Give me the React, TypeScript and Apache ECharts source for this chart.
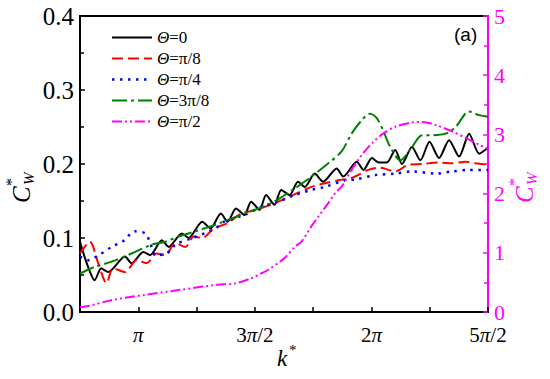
import React, { useEffect, useRef } from "react";
import * as echarts from "echarts";

// k* in units of π
const kTheta0 = [0.75, 0.78, 0.813, 0.841, 0.871, 0.943, 0.971, 1.022, 1.051, 1.101, 1.13, 1.187, 1.216, 1.274, 1.31, 1.354, 1.383, 1.419, 1.455, 1.484, 1.52, 1.548, 1.584, 1.613, 1.649, 1.685, 1.714, 1.757, 1.793, 1.851, 1.879, 1.937, 1.966, 2.002, 2.031, 2.066, 2.102, 2.131, 2.174, 2.21, 2.249, 2.29, 2.333, 2.376, 2.419, 2.462, 2.5];
const cwTheta0 = [0.095, 0.065, 0.043, 0.059, 0.054, 0.075, 0.066, 0.081, 0.077, 0.097, 0.088, 0.106, 0.1, 0.122, 0.113, 0.133, 0.122, 0.14, 0.131, 0.149, 0.138, 0.158, 0.145, 0.165, 0.158, 0.176, 0.169, 0.187, 0.176, 0.194, 0.183, 0.203, 0.192, 0.208, 0.202, 0.202, 0.219, 0.2, 0.223, 0.205, 0.23, 0.208, 0.232, 0.21, 0.241, 0.214, 0.222];

const kTheta1 = [0.75, 0.792, 0.828, 0.864, 0.892, 0.943, 0.993, 1.036, 1.079, 1.116, 1.159, 1.202, 1.238, 1.274, 1.324, 1.383, 1.441, 1.505, 1.57, 1.635, 1.743, 1.8, 1.858, 1.915, 1.987, 2.037, 2.102, 2.16, 2.217, 2.29, 2.347, 2.404, 2.447, 2.5];
const cwTheta1 = [0.079, 0.095, 0.066, 0.039, 0.059, 0.054, 0.07, 0.066, 0.079, 0.077, 0.093, 0.088, 0.102, 0.1, 0.113, 0.12, 0.133, 0.138, 0.145, 0.154, 0.169, 0.174, 0.178, 0.181, 0.192, 0.195, 0.19, 0.199, 0.2, 0.202, 0.201, 0.203, 0.201, 0.199];

const kTheta2 = [0.75, 0.785, 0.836, 0.886, 0.936, 0.985, 1.031, 1.052, 1.074, 1.121, 1.164, 1.225, 1.331, 1.368, 1.455, 1.527, 1.599, 1.671, 1.743, 1.8, 1.886, 1.93, 2.016, 2.102, 2.174, 2.275, 2.347, 2.419, 2.5];
const cwTheta2 = [0.075, 0.07, 0.078, 0.088, 0.096, 0.109, 0.106, 0.092, 0.077, 0.079, 0.092, 0.099, 0.113, 0.122, 0.131, 0.142, 0.149, 0.158, 0.165, 0.169, 0.178, 0.179, 0.185, 0.187, 0.19, 0.187, 0.19, 0.192, 0.192];

const kTheta3 = [0.75, 0.813, 0.885, 0.971, 1.058, 1.116, 1.173, 1.245, 1.331, 1.455, 1.57, 1.671, 1.743, 1.815, 1.872, 1.915, 1.958, 1.994, 2.023, 2.052, 2.081, 2.124, 2.174, 2.217, 2.261, 2.318, 2.361, 2.419, 2.462, 2.5];
const cwTheta3 = [0.052, 0.061, 0.068, 0.079, 0.091, 0.095, 0.102, 0.109, 0.118, 0.133, 0.147, 0.167, 0.183, 0.201, 0.217, 0.241, 0.259, 0.268, 0.262, 0.244, 0.223, 0.205, 0.223, 0.239, 0.239, 0.241, 0.25, 0.271, 0.266, 0.264];

const kTheta4 = [0.75, 0.785, 0.885, 1.029, 1.173, 1.338, 1.412, 1.484, 1.527, 1.556, 1.627, 1.671, 1.7, 1.743, 1.772, 1.815, 1.843, 1.872, 1.915, 1.958, 2.002, 2.045, 2.102, 2.174, 2.217, 2.275, 2.347, 2.419, 2.5];
const cwTheta4 = [0.08, 0.1, 0.2, 0.29, 0.37, 0.46, 0.48, 0.57, 0.65, 0.71, 0.91, 1.1, 1.19, 1.45, 1.61, 1.84, 2.0, 2.12, 2.4, 2.65, 2.85, 3.0, 3.13, 3.2, 3.21, 3.16, 3.05, 2.91, 2.75];

const seriesNames = ["Θ=0", "Θ=π/8", "Θ=π/4", "Θ=3π/8", "Θ=π/2"];
const seriesColors = ["#000000", "#ff0000", "#0000ff", "#008000", "#ff00ff"];
const leftTicks = [0, 0.1, 0.2, 0.3, 0.4];
const rightTicks = [0, 1, 2, 3, 4, 5];
const xTickLabels: [number, string][] = [
  [1, "{p|π}"],
  [1.5, "{n|3}{p|π}{n|/2}"],
  [2, "{n|2}{p|π}"],
  [2.5, "{n|5}{p|π}{n|/2}"],
];

const SERIF = "Liberation Serif";
const MAG = "#ff00ff";

const dashes: any[] = ["solid", [11, 5], [2.5, 5.5], [15, 4, 3, 4], [10, 3, 2, 3, 2, 3]];
const widths = [2, 2, 2.5, 2, 2];

const zip = (xs: number[], ys: number[]) => xs.map((x, i) => [x, ys[i]]);

const css = `
#chart-box svg text { font-family: "Liberation Serif", "Times New Roman", serif !important; }
`;

export default function App() {
  const ref = useRef<HTMLDivElement>(null);
  useEffect(() => {
    if (!ref.current) return;
    const chart = echarts.init(ref.current, undefined, { renderer: "svg" });
    const mk = (i: number, xs: number[], ys: number[], yAxisIndex = 0, smooth: any = false) => ({
      name: seriesNames[i],
      type: "line",
      data: zip(xs, ys),
      yAxisIndex,
      symbol: "none",
      smooth,
      lineStyle: { color: seriesColors[i], width: widths[i], type: dashes[i] },
      itemStyle: { color: seriesColors[i] },
    });

    const legendGraphics: any[] = [];
    seriesNames.forEach((name, i) => {
      const y = 37.5 + 21 * i;
      const dash = dashes[i];
      legendGraphics.push({
        type: "line",
        shape: { x1: 112, y1: y, x2: 152, y2: y },
        style: {
          stroke: seriesColors[i],
          lineWidth: widths[i],
          lineDash: Array.isArray(dash) ? dash : null,
        },
      });
      legendGraphics.push({
        type: "text",
        x: 157,
        y: y - 9,
        style: {
          text: `{i|Θ}{n|${name.slice(1)}}`,
          fontFamily: SERIF,
          fontSize: 17,
          rich: {
            i: { fontFamily: SERIF, fontSize: 17, fontStyle: "italic", fill: "#000" },
            n: { fontFamily: SERIF, fontSize: 17, fill: "#000" },
          },
        },
      });
    });

    const axisName = (x: number, y: number, color: string) => ({
      type: "group",
      x,
      y,
      rotation: Math.PI / 2,
      children: [
        { type: "text", x: -8, y: -13, style: { text: "C", fontFamily: SERIF, fontSize: 25, fontStyle: "italic", fill: color } },
        { type: "text", x: 9, y: -19, style: { text: "*", fontFamily: SERIF, fontSize: 16, fill: color } },
        { type: "text", x: 10, y: -1, style: { text: "W", fontFamily: SERIF, fontSize: 15, fontStyle: "italic", fill: color } },
      ],
    });

    chart.setOption({
      animation: false,
      backgroundColor: "#fff",
      textStyle: { fontFamily: SERIF },
      grid: {
        left: 80,
        right: 62,
        top: 16,
        bottom: 67,
        show: true,
        borderColor: "#000",
        borderWidth: 2,
        backgroundColor: "transparent",
      },
      xAxis: {
        type: "value",
        min: 0.75,
        max: 2.5,
        interval: 0.25,
        axisLine: { show: true, lineStyle: { color: "#000", width: 2 } },
        axisTick: { show: true, inside: true, length: 5, lineStyle: { color: "#000", width: 1.5 } },
        splitLine: { show: false },
        axisLabel: {
          margin: 12,
          color: "#000",
          fontFamily: SERIF,
          fontSize: 21,
          formatter: (v: number) => {
            const f = xTickLabels.find((t) => Math.abs(t[0] - v) < 1e-6);
            return f ? f[1] : "";
          },
          rich: {
            p: { fontFamily: SERIF, fontSize: 21, fontStyle: "italic", color: "#000" },
            n: { fontFamily: SERIF, fontSize: 21, color: "#000" },
          },
        },
      },
      yAxis: [
        {
          type: "value",
          min: 0,
          max: 0.4,
          interval: 0.1,
          position: "left",
          axisLine: { show: true, lineStyle: { color: "#000", width: 2 } },
          axisTick: { show: true, inside: true, length: 5, lineStyle: { color: "#000", width: 1.5 } },
          minorTick: { show: true, splitNumber: 2, length: 4, lineStyle: { color: "#000", width: 1.5 } },
          splitLine: { show: false },
          axisLabel: {
            margin: 6,
            color: "#000",
            fontFamily: SERIF,
            fontSize: 25,
            formatter: (v: number) => {
              const t = leftTicks.find((x) => Math.abs(x - v) < 1e-6);
              return t !== undefined ? t.toFixed(1) : "";
            },
          },
        },
        {
          type: "value",
          min: 0,
          max: 5,
          interval: 1,
          position: "right",
          axisLine: { show: true, lineStyle: { color: MAG, width: 2 } },
          axisTick: { show: true, inside: true, length: 5, lineStyle: { color: MAG, width: 1.5 } },
          minorTick: { show: true, splitNumber: 2, length: 4, lineStyle: { color: MAG, width: 1.5 } },
          splitLine: { show: false },
          axisLabel: {
            margin: 6,
            color: MAG,
            fontFamily: SERIF,
            fontSize: 22,
            formatter: (v: number) => {
              const t = rightTicks.find((x) => Math.abs(x - v) < 1e-6);
              return t !== undefined ? String(t) : "";
            },
          },
        },
      ],
      series: [
        mk(0, kTheta0, cwTheta0, 0, 0.25),
        mk(1, kTheta1, cwTheta1, 0, 0.3),
        mk(2, kTheta2, cwTheta2, 0, 0.3),
        mk(3, kTheta3, cwTheta3, 0, 0.3),
        mk(4, kTheta4, cwTheta4, 1, 0.3),
      ],
      graphic: [
        ...legendGraphics,
        axisName(22, 195, "#000"),
        axisName(525, 195, MAG),
        {
          type: "text",
          x: 277,
          y: 347,
          style: { text: "k", fontFamily: SERIF, fontSize: 23, fontStyle: "italic", fill: "#000" },
        },
        {
          type: "text",
          x: 289,
          y: 342,
          style: { text: "*", fontFamily: SERIF, fontSize: 15, fill: "#000" },
        },
      ],
    });
    return () => chart.dispose();
  }, []);
  return (
    <div>
      <style>{css}</style>
      <div id="chart-box" ref={ref} style={{ width: 550, height: 379, position: "absolute", left: 0, top: 0 }} />
      <div
        style={{
          position: "absolute",
          left: 454,
          top: 24,
          fontFamily: "Liberation Sans, Arial, sans-serif",
          fontSize: 19,
          lineHeight: "22px",
          color: "#000",
        }}
      >
        (a)
      </div>
    </div>
  );
}
